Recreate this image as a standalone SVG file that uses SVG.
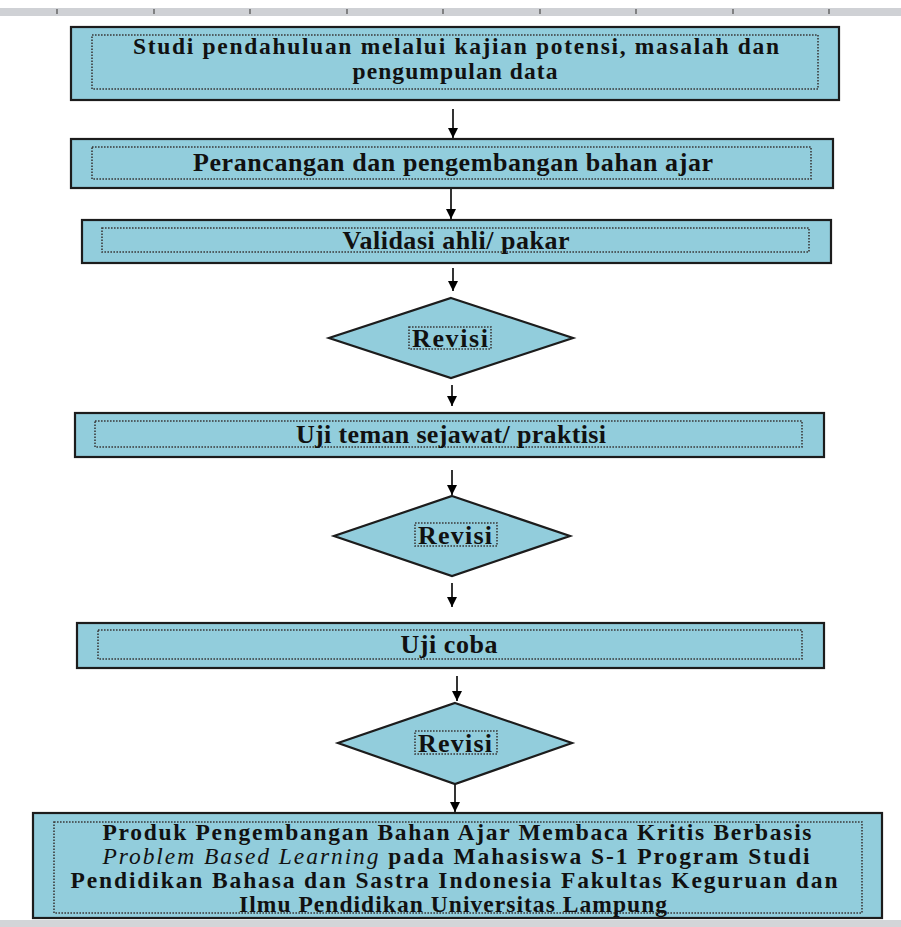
<svg xmlns="http://www.w3.org/2000/svg" width="901" height="927" viewBox="0 0 901 927">
<defs>
<style>
.box{fill:#92CDDC;stroke:#1c1c1c;stroke-width:2.2}
.inner{fill:none;stroke:#3a3a3a;stroke-width:1.6;stroke-dasharray:1.6 1.4}
.t{font-family:"Liberation Serif","Times New Roman",serif;font-weight:bold;font-size:26px;fill:#111;text-anchor:middle}
.s{font-size:23.5px}
.it{font-style:italic;font-weight:normal}
.conn{stroke:#000;stroke-width:1.6;fill:none}
.tick{stroke:#555;stroke-width:1.3}
</style>
<marker id="ah" viewBox="0 0 10 10" refX="10" refY="5" markerWidth="10" markerHeight="10" markerUnits="userSpaceOnUse" orient="auto">
<path d="M0,0 L10,5 L0,10 z" fill="#000"/>
</marker>
</defs>
<rect x="0" y="0" width="901" height="927" fill="#fff"/>
<g id="ruler">
<rect x="0" y="8" width="901" height="8" fill="#cfd1d5"/>
<line class="tick" x1="57" y1="9" x2="57" y2="14"/>
<line class="tick" x1="154" y1="9" x2="154" y2="14"/>
<line class="tick" x1="250" y1="9" x2="250" y2="14"/>
<line class="tick" x1="347" y1="9" x2="347" y2="14"/>
<line class="tick" x1="443" y1="9" x2="443" y2="14"/>
<line class="tick" x1="540" y1="9" x2="540" y2="14"/>
<line class="tick" x1="636" y1="9" x2="636" y2="14"/>
<line class="tick" x1="733" y1="9" x2="733" y2="14"/>
<line class="tick" x1="829" y1="9" x2="829" y2="14"/>
</g>
<g id="connectors">
<line class="conn" x1="453" y1="109" x2="453" y2="138" marker-end="url(#ah)"/>
<line class="conn" x1="451" y1="189" x2="451" y2="219" marker-end="url(#ah)"/>
<line class="conn" x1="453" y1="268" x2="453" y2="291" marker-end="url(#ah)"/>
<line class="conn" x1="452" y1="385" x2="452" y2="406" marker-end="url(#ah)"/>
<line class="conn" x1="452" y1="470" x2="452" y2="495" marker-end="url(#ah)"/>
<line class="conn" x1="452" y1="583" x2="452" y2="607" marker-end="url(#ah)"/>
<line class="conn" x1="457" y1="676" x2="457" y2="701" marker-end="url(#ah)"/>
<line class="conn" x1="455" y1="784" x2="455" y2="812" marker-end="url(#ah)"/>
</g>
<g id="n1">
<rect class="box" x="71" y="27" width="768" height="73"/>
<rect class="inner" x="92" y="35" width="726" height="54"/>
<text class="t s" x="456" y="54" textLength="646" lengthAdjust="spacing">Studi pendahuluan melalui kajian potensi, masalah dan</text>
<text class="t s" x="455" y="79" textLength="205" lengthAdjust="spacing">pengumpulan data</text>
</g>
<g id="n2">
<rect class="box" x="71" y="139" width="762" height="49"/>
<rect class="inner" x="92" y="147" width="719" height="32"/>
<text class="t" x="453" y="171" textLength="520" lengthAdjust="spacing">Perancangan dan pengembangan bahan ajar</text>
</g>
<g id="n3">
<rect class="box" x="82" y="220" width="749" height="43"/>
<rect class="inner" x="102" y="228" width="707" height="24"/>
<text class="t" x="456" y="249" textLength="227" lengthAdjust="spacing">Validasi ahli/ pakar</text>
</g>
<g id="n4">
<polygon class="box" points="451,298 573,338 451,378 329,338"/>
<rect class="inner" x="409" y="327" width="82" height="22"/>
<text class="t" x="450" y="347" textLength="76" lengthAdjust="spacing">Revisi</text>
</g>
<g id="n5">
<rect class="box" x="75" y="413" width="749" height="44"/>
<rect class="inner" x="95" y="421" width="707" height="26"/>
<text class="t" x="451" y="443" textLength="310" lengthAdjust="spacing">Uji teman sejawat/ praktisi</text>
</g>
<g id="n6">
<polygon class="box" points="452,496 570,536 452,576 334,536"/>
<rect class="inner" x="415" y="523" width="82" height="23"/>
<text class="t" x="455" y="544" textLength="74" lengthAdjust="spacing">Revisi</text>
</g>
<g id="n7">
<rect class="box" x="77" y="623" width="747" height="45"/>
<rect class="inner" x="98" y="630" width="704" height="29"/>
<text class="t" x="449" y="653" textLength="97" lengthAdjust="spacing">Uji coba</text>
</g>
<g id="n8">
<polygon class="box" points="455,703 572,743 455,784 338,743"/>
<rect class="inner" x="415" y="731" width="82" height="23"/>
<text class="t" x="455" y="752" textLength="74" lengthAdjust="spacing">Revisi</text>
</g>
<g id="n9">
<rect class="box" x="33" y="813" width="849" height="105"/>
<rect class="inner" x="54" y="822" width="808" height="91"/>
<text class="t s" x="457" y="840" textLength="709" lengthAdjust="spacing">Produk Pengembangan Bahan Ajar Membaca Kritis Berbasis</text>
<text class="t s" x="456" y="864" textLength="707" lengthAdjust="spacing"><tspan class="it">Problem Based Learning</tspan> pada Mahasiswa S-1 Program Studi</text>
<text class="t s" x="454" y="888" textLength="767" lengthAdjust="spacing">Pendidikan Bahasa dan Sastra Indonesia Fakultas Keguruan dan</text>
<text class="t s" x="453" y="912" textLength="428" lengthAdjust="spacing">Ilmu Pendidikan Universitas Lampung</text>
</g>
<rect x="0" y="920" width="901" height="7" fill="#d3d5d8"/>
</svg>
